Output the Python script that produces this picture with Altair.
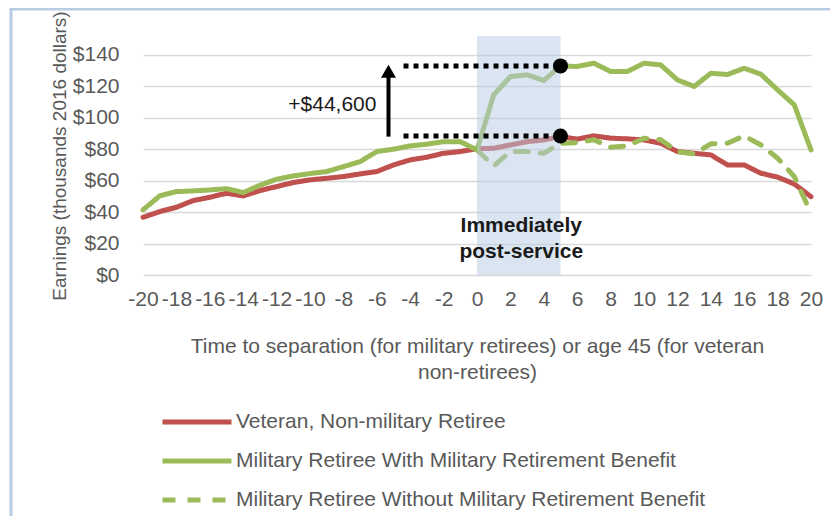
import altair as alt
import pandas as pd

# ---------------- data ----------------
t_all = list(range(-20, 21))
veteran = [36.7, 40.3, 43.1, 47.3, 49.4, 52.0, 50.3, 53.7, 56.2, 58.8, 60.5,
           61.5, 62.6, 64.3, 65.8, 70.0, 73.2, 74.9, 77.4, 78.5, 80.3,
           80.6, 82.7, 84.8, 85.9, 88.0, 86.4, 88.5, 87.0, 86.6, 85.9,
           83.8, 78.5, 77.4, 76.4, 70.0, 70.0, 64.7, 62.2, 57.9, 49.8]
with_benefit = [41.4, 50.3, 53.0, 53.5, 54.1, 54.9, 52.4, 57.1, 60.9, 63.0, 64.5,
                65.8, 68.9, 72.1, 78.5, 80.0, 82.1, 83.2, 84.8, 84.8, 79.5,
                114.6, 126.2, 127.3, 123.7, 133.0, 132.6, 134.7, 129.4, 129.4, 134.7,
                133.6, 124.1, 119.9, 128.3, 127.5, 131.5, 127.7, 117.7, 108.2, 79.5]
t_without = list(range(0, 21))
without_benefit = [79.5, 69.4, 78.5, 78.5, 77.4, 83.8, 84.2, 86.0, 81.2, 82.1, 87.0,
                   86.0, 78.5, 77.0, 83.4, 83.8, 88.5, 82.7, 74.3, 62.6, 39.3]

series_names = ["Veteran, Non-military Retiree",
                "Military Retiree With Military Retirement Benefit",
                "Military Retiree Without Military Retirement Benefit"]
series_colors = ["#C0504D", "#9BBB59", "#9BBB59"]
series_dash = [[1, 0], [1, 0], [13, 12]]

x_ticks = list(range(-20, 21, 2))
y_ticks = [0, 20, 40, 60, 80, 100, 120, 140]

shade_x = [0, 5]
gap_levels = [133.0, 88.4]
gap_x = [-4.4, 5]
arrow_x = -5.3
gap_label = "+$44,600"
gap_label_pos = [-8.66, 108.2]
shade_label = ["Immediately", "post-service"]
shade_label_pos = [[2.65, 31.2], [2.65, 14.6]]

x_title = ["Time to separation (for military retirees) or age 45 (for veteran",
           "non-retirees)"]
y_title = "Earnings (thousands 2016 dollars)"

FONT = "Liberation Sans"
GREY = "#595959"
FS = 21

# ---------------- tables ----------------
rows = []
for tt, v in zip(t_all, veteran):
    rows.append({"t": tt, "value": v, "series": series_names[0]})
for tt, v in zip(t_all, with_benefit):
    rows.append({"t": tt, "value": v, "series": series_names[1]})
for tt, v in zip(t_without, without_benefit):
    rows.append({"t": tt, "value": v, "series": series_names[2]})
lines_df = pd.DataFrame(rows)

x_scale = alt.Scale(domain=[-20, 20], nice=False, zero=False)
y_scale = alt.Scale(domain=[0, 152], nice=False, zero=True)

legend = alt.Legend(
    title=None, orient="none", legendX=40, legendY=372,
    symbolType="M-3,0H3", symbolSize=529, symbolStrokeWidth=5,
    labelOffset=25, labelFontSize=FS, labelColor=GREY, labelFont=FONT,
    rowPadding=15, padding=0, labelLimit=0,
)

lines = alt.Chart(lines_df).mark_line(
    strokeWidth=5, strokeJoin="round", strokeCap="round"
).encode(
    x=alt.X("t:Q", scale=x_scale, axis=alt.Axis(
        values=x_ticks, tickCount=len(x_ticks), labelExpr="'' + datum.value",
        title=x_title, grid=False, domain=False, ticks=False,
        labelFontSize=FS, labelColor=GREY, labelFont=FONT, labelPadding=13,
        labelFlush=False, labelOverlap=False,
        titleFontSize=FS, titleColor=GREY, titleFont=FONT, titleFontWeight="normal",
        titleLineHeight=26, titlePadding=26)),
    y=alt.Y("value:Q", scale=y_scale, axis=alt.Axis(
        values=y_ticks, tickCount=len(y_ticks), format="$.0f", title=y_title, grid=True,
        gridColor="#D9D9D9", gridWidth=1.5, domain=False, ticks=False,
        labelFontSize=FS, labelColor=GREY, labelFont=FONT, labelPadding=24,
        labelOverlap=False,
        titleFontSize=19, titleColor=GREY, titleFont=FONT, titleFontWeight="normal",
        titlePadding=3)),
    color=alt.Color("series:N", scale=alt.Scale(domain=series_names, range=series_colors),
                    legend=legend),
    strokeDash=alt.StrokeDash("series:N", scale=alt.Scale(domain=series_names, range=series_dash),
                              legend=legend),
)

shade = alt.Chart(pd.DataFrame({"x0": [shade_x[0]], "x1": [shade_x[1]],
                                "y0": [0], "y1": [152]})).mark_rect(
    color="#B8CCE4", opacity=0.5
).encode(x=alt.X("x0:Q", scale=x_scale), x2="x1", y=alt.Y("y0:Q", scale=y_scale), y2="y1")

dotted = alt.Chart(pd.DataFrame({"xa": [gap_x[0]] * 2, "xb": [gap_x[1]] * 2,
                                 "y": gap_levels})).mark_rule(
    color="black", strokeWidth=5, strokeDash=[5, 5]
).encode(x=alt.X("xa:Q", scale=x_scale), x2="xb", y=alt.Y("y:Q", scale=y_scale))

dots = alt.Chart(pd.DataFrame({"x": [gap_x[1]] * 2, "y": gap_levels})).mark_point(
    shape="circle", filled=True, size=225, color="black", opacity=1
).encode(x=alt.X("x:Q", scale=x_scale), y=alt.Y("y:Q", scale=y_scale))

arrow_shaft = alt.Chart(pd.DataFrame({"x": [arrow_x], "y0": [gap_levels[1] - 0.4],
                                      "y1": [gap_levels[0] - 5]})).mark_rule(
    color="black", strokeWidth=4
).encode(x=alt.X("x:Q", scale=x_scale), y=alt.Y("y0:Q", scale=y_scale), y2="y1")

arrow_head = alt.Chart(pd.DataFrame({"x": [arrow_x], "y": [gap_levels[0] - 3.4]})).mark_point(
    shape="triangle-up", filled=True, size=225, color="black", opacity=1
).encode(x=alt.X("x:Q", scale=x_scale), y=alt.Y("y:Q", scale=y_scale))

gap_text = alt.Chart(pd.DataFrame({"x": [gap_label_pos[0]], "y": [gap_label_pos[1]],
                                   "txt": [gap_label]})).mark_text(
    fontSize=FS, font=FONT, color="#1a1a1a", align="center", baseline="middle"
).encode(x=alt.X("x:Q", scale=x_scale), y=alt.Y("y:Q", scale=y_scale), text="txt:N")

shade_text = alt.Chart(pd.DataFrame({"x": [p[0] for p in shade_label_pos],
                                     "y": [p[1] for p in shade_label_pos],
                                     "txt": shade_label})).mark_text(
    fontSize=FS, font=FONT, fontWeight="bold", color="#1a1a1a",
    align="center", baseline="middle"
).encode(x=alt.X("x:Q", scale=x_scale), y=alt.Y("y:Q", scale=y_scale), text="txt:N")

frame_df = pd.DataFrame({"a": [0]})
frame_left = alt.Chart(frame_df).mark_rule(color="#B8CCE4", strokeWidth=3).encode(
    x=alt.value(-132), y=alt.value(-27), y2=alt.value(480))
frame_top = alt.Chart(frame_df).mark_rule(color="#B8CCE4", strokeWidth=3).encode(
    x=alt.value(-133.5), x2=alt.value(700), y=alt.value(-27))

chart = alt.layer(
    lines, shade, dotted, dots, arrow_shaft, arrow_head, gap_text, shade_text,
    frame_left, frame_top
).properties(
    width=668, height=239,
    padding={"left": 135, "top": 28, "right": 19, "bottom": 244},
    autosize=alt.AutoSizeParams(type="none"),
    background="white",
).configure_view(stroke=None)

chart.save("out.html", embed_options={"renderer": "svg", "actions": False})
